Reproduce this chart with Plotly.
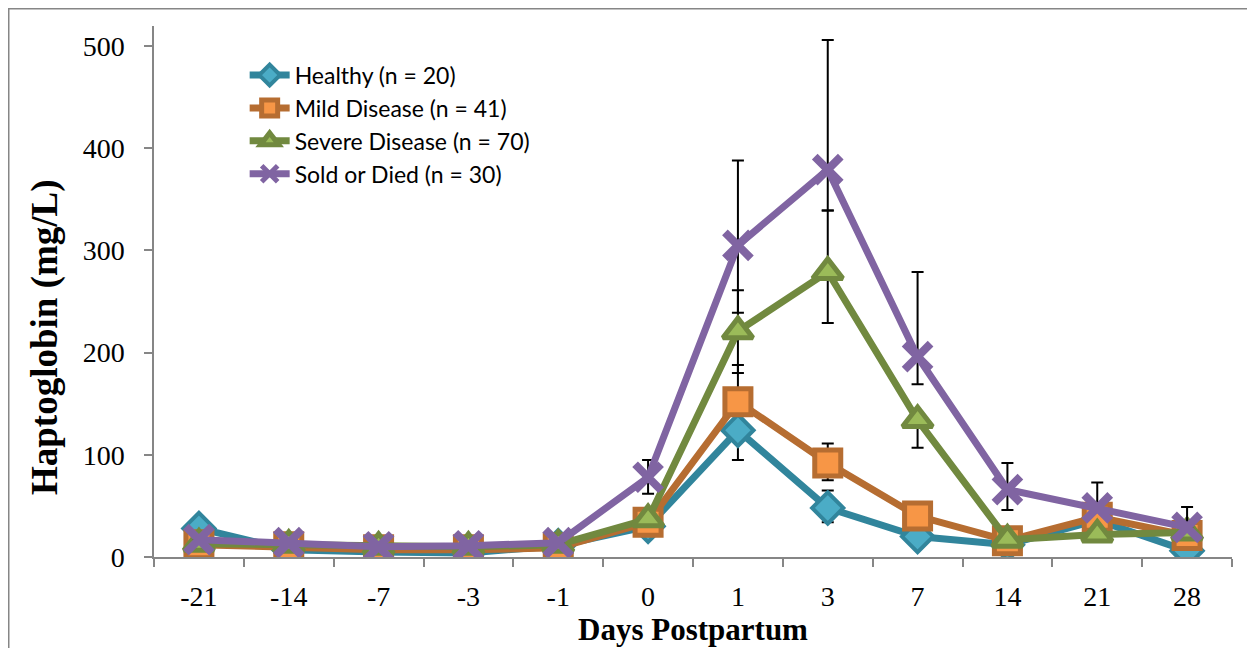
import plotly.graph_objects as go

days = ["-21", "-14", "-7", "-3", "-1", "0", "1", "3", "7", "14", "21", "28"]

healthy = [28, 7, 5, 4, 11, 30, 124, 48, 20, 12, 36, 6]
mild = [12, 10, 7, 7, 9, 34, 152, 92, 40, 16, 39, 21]
severe = [13, 12, 10, 10, 12, 37, 221, 279, 134, 17, 22, 24]
sold = [17, 14, 10, 11, 14, 78, 305, 379, 196, 66, 48, 29]

healthy_err_plus = [0, 0, 0, 0, 0, 0, 0, 17, 0, 0, 0, 0]
healthy_err_minus = [0, 0, 0, 0, 0, 0, 29, 14, 0, 0, 0, 0]
mild_err_plus = [0, 0, 0, 0, 0, 0, 36, 19, 0, 0, 0, 0]
mild_err_minus = [0, 0, 0, 0, 0, 0, 0, 17, 0, 0, 0, 0]
severe_err_plus = [0, 0, 0, 0, 0, 0, 40, 60, 0, 0, 0, 0]
severe_err_minus = [0, 0, 0, 0, 0, 0, 41, 50, 27, 0, 0, 0]
sold_err_plus = [0, 0, 0, 0, 0, 17, 83, 127, 83, 26, 25, 20]
sold_err_minus = [0, 0, 0, 0, 0, 16, 66, 40, 27, 20, 0, 0]

names = ["Healthy (n = 20)", "Mild Disease (n = 41)", "Severe Disease (n = 70)", "Sold or Died (n = 30)"]

series = [
    (healthy, healthy_err_plus, healthy_err_minus, "#31859C", "#4BACC6", "diamond", 24, 4),
    (mild, mild_err_plus, mild_err_minus, "#B66D31", "#F79646", "square", 26, 5),
    (severe, severe_err_plus, severe_err_minus, "#71893F", "#9BBB59", "triangle-up", 26, 5),
    (sold, sold_err_plus, sold_err_minus, "#8064A2", "#8064A2", "x-thin-open", 26, 8),
]

fig = go.Figure()
for i, (vals, ep, em, lc, fc, sym, sz, lw) in enumerate(series):
    fig.add_trace(go.Scatter(
        x=days, y=vals, name=names[i], mode="lines+markers",
        legendgroup=f"g{i}",
        line=dict(color=lc, width=7),
        marker=dict(symbol=sym, size=sz, color=fc, line=dict(color=lc, width=lw)),
        error_y=dict(type="data", symmetric=False, array=ep, arrayminus=em,
                     color="black", thickness=2, width=6),
    ))

serif = "Liberation Serif, Times New Roman, serif"
axis_font = dict(family=serif, size=28, color="black")
xtitle_font = dict(family=serif, size=31, color="black")
ytitle_font = dict(family=serif, size=37, color="black")

# plot area in figure pixels (page body has an 8px offset)
L, R, T, B = 146, 31, 18, 99
PW, PH = 1255 - L - R, 648 - T - B

fig.update_layout(
    width=1255, height=648,
    margin=dict(l=L, r=R, t=T, b=B),
    paper_bgcolor="white", plot_bgcolor="white",
    showlegend=True,
    legend=dict(
        x=0.0841, y=0.948, xanchor="left", yanchor="top",
        font=dict(family="Lato, Carlito, Calibri, sans-serif", size=23, color="black"),
        bgcolor="rgba(0,0,0,0)", tracegroupgap=0, traceorder="grouped",
        itemwidth=40,
    ),
    xaxis=dict(
        type="category", categoryorder="array", categoryarray=days,
        range=[-0.5, 11.5], automargin=False,
        showline=True, linecolor="#868686", linewidth=1.5,
        ticks="outside", tickson="boundaries", ticklen=8, tickcolor="#868686", tickwidth=1.5,
        tickfont=axis_font, ticklabelstandoff=14,
        showgrid=False, zeroline=False,
        title=dict(text="<b>Days Postpartum</b>", font=xtitle_font, standoff=1),
    ),
    yaxis=dict(
        range=[0, 519.6], tickvals=[0, 100, 200, 300, 400, 500], automargin=False,
        showline=True, linecolor="#868686", linewidth=1.5,
        ticks="outside", ticklen=8, tickcolor="#868686", tickwidth=1.5,
        tickfont=axis_font, ticklabelstandoff=14,
        showgrid=False, zeroline=False,
    ),
    annotations=[dict(
        text="<b>Haptoglobin (mg/L)</b>", textangle=-90, showarrow=False,
        xref="paper", yref="paper", x=(37 - L) / PW, y=(PH + T - 329) / PH,
        xanchor="center", yanchor="middle", font=ytitle_font,
    )],
    shapes=[dict(type="rect", xref="paper", yref="paper",
                 x0=(0.75 - L) / PW, x1=(1270 - L) / PW,
                 y0=(PH + T - 680) / PH, y1=(PH + T - 0.75) / PH,
                 line=dict(color="#868686", width=1.5), fillcolor="rgba(0,0,0,0)", layer="below")],
)

fig.write_html("out.html")
